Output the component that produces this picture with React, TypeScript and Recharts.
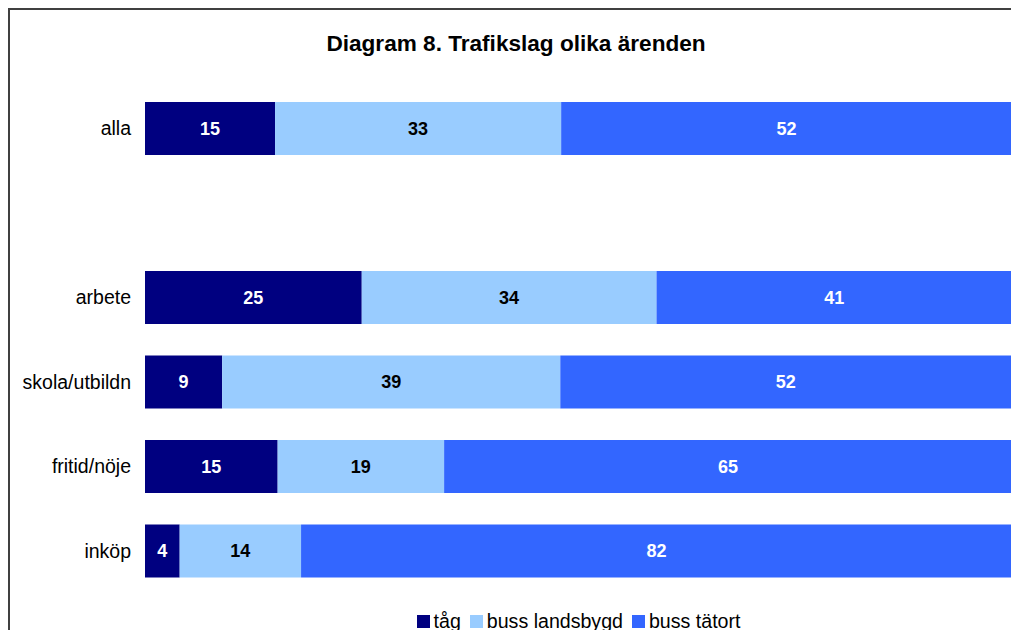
import { BarChart, Bar, XAxis, YAxis, Legend, LabelList } from "recharts";

// kategorier (tom rad mellan "alla" och resten)
const categories = ["alla", " ", "arbete", "skola/utbildn", "fritid/nöje", "inköp"];
const tag = [15, null, 25, 8.9, 15.3, 4];
const bussLandsbygd = [33, null, 34, 39, 19.2, 14];
const bussTatort = [52, null, 41, 52, 65.49, 82];

const seriesNames = ["tåg", "buss landsbygd", "buss tätort"];
const seriesColors = ["#000080", "#99CCFF", "#3366FF"];
const labelColors = ["#ffffff", "#000000", "#ffffff"];

const data = categories.map((c, i) => ({
  name: c,
  tag: tag[i],
  landsbygd: bussLandsbygd[i],
  tatort: bussTatort[i],
}));

const keys = ["tag", "landsbygd", "tatort"];

const font = "'Liberation Sans', Arial, sans-serif";

const LegendContent = () => (
  <div
    style={{
      display: "flex",
      justifyContent: "center",
      alignItems: "center",
      height: 20,
      fontFamily: font,
      fontSize: 19.6,
      color: "#000",
    }}
  >
    {seriesNames.map((n, i) => (
      <span
        key={n}
        style={{ display: "flex", alignItems: "center", marginRight: i < seriesNames.length - 1 ? 9 : 0 }}
      >
        <span
          style={{ width: 13, height: 13, background: seriesColors[i], display: "inline-block", marginRight: 4 }}
        />
        {n}
      </span>
    ))}
  </div>
);

export default function App() {
  return (
    <div
      style={{
        position: "fixed",
        left: 8,
        top: 8,
        width: 1100,
        height: 640,
        borderTop: "2px solid #404040",
        borderLeft: "2px solid #404040",
        background: "#fff",
        overflow: "hidden",
      }}
    >
      <div
        style={{
          position: "absolute",
          top: 21,
          left: 0,
          width: 1012,
          textAlign: "center",
          fontFamily: font,
          fontWeight: "bold",
          fontSize: 22.6,
        }}
      >
        Diagram 8. Trafikslag olika ärenden
      </div>
      <div style={{ position: "absolute", left: 0, top: 0 }}>
        <BarChart
          width={1002}
          height={620}
          data={data}
          layout="vertical"
          barSize={53}
          margin={{ top: 76, right: 0, bottom: 17, left: 0 }}
        >
          <XAxis type="number" domain={[0, 100]} hide allowDataOverflow />
          <YAxis
            type="category"
            dataKey="name"
            width={135}
            axisLine={false}
            tickLine={false}
            tickMargin={8}
            tick={{ fontFamily: font, fontSize: 19.5, fill: "#000" }}
          />
          <Legend
            verticalAlign="bottom"
            content={<LegendContent />}
            wrapperStyle={{ left: 135, width: 867, top: 601 }}
          />
          {keys.map((k, i) => (
            <Bar
              key={k}
              dataKey={k}
              name={seriesNames[i]}
              stackId="a"
              fill={seriesColors[i]}
              isAnimationActive={false}
            >
              <LabelList
                dataKey={k}
                position="center"
                formatter={(v: any) => (v == null ? "" : Math.round(v))}
                style={{ fontFamily: font, fontSize: 18, fontWeight: "bold", fill: labelColors[i] }}
              />
            </Bar>
          ))}
        </BarChart>
      </div>
    </div>
  );
}
